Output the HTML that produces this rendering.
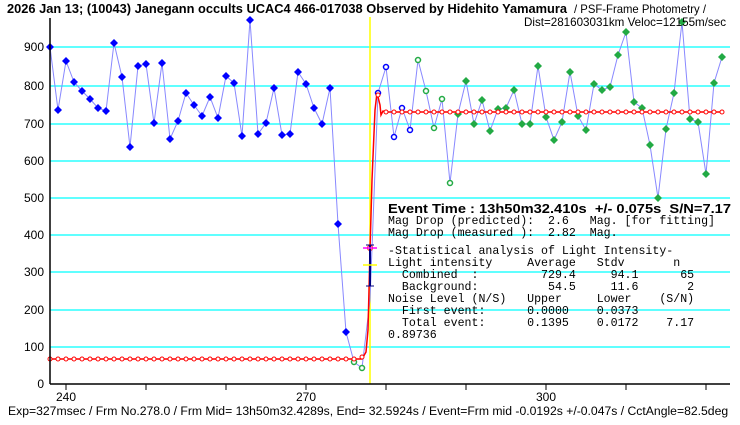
<!DOCTYPE html>
<html><head><meta charset="utf-8"><style>
html,body{margin:0;padding:0;background:#fff;width:740px;height:425px;overflow:hidden}
svg{display:block}
.m text{white-space:pre}
</style></head><body>
<svg width="740" height="425" viewBox="0 0 740 425" xmlns="http://www.w3.org/2000/svg" font-family="Liberation Sans, sans-serif">
<rect width="740" height="425" fill="#fff"/>
<g stroke="#00ffff" stroke-width="1.3">
<line x1="50" x2="730" y1="47" y2="47"/><line x1="50" x2="730" y1="86" y2="86"/>
<line x1="50" x2="730" y1="124" y2="124"/><line x1="50" x2="730" y1="161" y2="161"/>
<line x1="50" x2="730" y1="198" y2="198"/><line x1="50" x2="730" y1="235" y2="235"/>
<line x1="50" x2="730" y1="272" y2="272"/><line x1="50" x2="730" y1="310" y2="310"/>
<line x1="50" x2="730" y1="347" y2="347"/>
</g>
<g font-size="12" text-anchor="end" fill="#000">
<text x="44" y="51">900</text><text x="44" y="90">800</text><text x="44" y="128">700</text>
<text x="44" y="165">600</text><text x="44" y="202">500</text><text x="44" y="239">400</text>
<text x="44" y="276">300</text><text x="44" y="314">200</text><text x="44" y="351">100</text>
<text x="44" y="388">0</text>
</g>
<line x1="370" x2="370" y1="17" y2="384" stroke="#ffff00" stroke-width="1.5"/>
<polyline fill="none" stroke="#8888ff" stroke-width="1" points="50,47 58,110 66,61 74,82 82,91 90,99 98,108 106,111 114,43 122,77 130,147 138,66 146,64 154,123 162,63 170,139 178,121 186,93 194,105 202,116 210,97 218,118 226,76 234,83 242,136 250,20 258,134 266,123 274,88 282,135 290,134 298,72 306,84 314,108 322,124 330,88 338,224 346,332 354,362 362,368 370,300 378,93 386,67 394,137 402,108 410,130 418,60 426,91 434,128 442,99 450,183 458,114 466,81 474,124 482,100 490,131 498,109 506,108 514,90 522,124 530,124 538,66 546,117 554,140 562,122 570,72 578,116 586,130 594,84 602,90 610,87 618,55 626,32 634,102 642,108 650,145 658,198 666,129 674,93 682,22 690,119 698,122 706,174 714,83 722,57"/>
<g fill="#0000ff">
<path d="M50 43l4 4-4 4-4-4z M58 106l4 4-4 4-4-4z M66 57l4 4-4 4-4-4z M74 78l4 4-4 4-4-4z M82 87l4 4-4 4-4-4z M90 95l4 4-4 4-4-4z M98 104l4 4-4 4-4-4z M106 107l4 4-4 4-4-4z M114 39l4 4-4 4-4-4z M122 73l4 4-4 4-4-4z M130 143l4 4-4 4-4-4z M138 62l4 4-4 4-4-4z M146 60l4 4-4 4-4-4z M154 119l4 4-4 4-4-4z M162 59l4 4-4 4-4-4z M170 135l4 4-4 4-4-4z M178 117l4 4-4 4-4-4z M186 89l4 4-4 4-4-4z M194 101l4 4-4 4-4-4z M202 112l4 4-4 4-4-4z M210 93l4 4-4 4-4-4z M218 114l4 4-4 4-4-4z M226 72l4 4-4 4-4-4z M234 79l4 4-4 4-4-4z M242 132l4 4-4 4-4-4z M250 16l4 4-4 4-4-4z M258 130l4 4-4 4-4-4z M266 119l4 4-4 4-4-4z M274 84l4 4-4 4-4-4z M282 131l4 4-4 4-4-4z M290 130l4 4-4 4-4-4z M298 68l4 4-4 4-4-4z M306 80l4 4-4 4-4-4z M314 104l4 4-4 4-4-4z M322 120l4 4-4 4-4-4z M330 84l4 4-4 4-4-4z M338 220l4 4-4 4-4-4z M346 328l4 4-4 4-4-4z"/>
</g>
<g fill="#fff" stroke="#0000ff" stroke-width="1.5">
<circle cx="378" cy="93" r="2.5"/><circle cx="386" cy="67" r="2.5"/><circle cx="394" cy="137" r="2.5"/><circle cx="402" cy="108" r="2.5"/><circle cx="410" cy="130" r="2.5"/>
</g>
<g fill="#fff" stroke="#22aa44" stroke-width="1.5">
<circle cx="354" cy="362" r="2.5"/><circle cx="362" cy="368" r="2.5"/>
<circle cx="418" cy="60" r="2.5"/><circle cx="426" cy="91" r="2.5"/><circle cx="434" cy="128" r="2.5"/><circle cx="442" cy="99" r="2.5"/><circle cx="450" cy="183" r="2.5"/>
</g>
<g fill="#22aa44">
<path d="M458 110l4 4-4 4-4-4z M466 77l4 4-4 4-4-4z M474 120l4 4-4 4-4-4z M482 96l4 4-4 4-4-4z M490 127l4 4-4 4-4-4z M498 105l4 4-4 4-4-4z M506 104l4 4-4 4-4-4z M514 86l4 4-4 4-4-4z M522 120l4 4-4 4-4-4z M530 120l4 4-4 4-4-4z M538 62l4 4-4 4-4-4z M546 113l4 4-4 4-4-4z M554 136l4 4-4 4-4-4z M562 118l4 4-4 4-4-4z M570 68l4 4-4 4-4-4z M578 112l4 4-4 4-4-4z M586 126l4 4-4 4-4-4z M594 80l4 4-4 4-4-4z M602 86l4 4-4 4-4-4z M610 83l4 4-4 4-4-4z M618 51l4 4-4 4-4-4z M626 28l4 4-4 4-4-4z M634 98l4 4-4 4-4-4z M642 104l4 4-4 4-4-4z M650 141l4 4-4 4-4-4z M658 194l4 4-4 4-4-4z M666 125l4 4-4 4-4-4z M674 89l4 4-4 4-4-4z M682 18l4 4-4 4-4-4z M690 115l4 4-4 4-4-4z M698 118l4 4-4 4-4-4z M706 170l4 4-4 4-4-4z M714 79l4 4-4 4-4-4z M722 53l4 4-4 4-4-4z"/>
</g>
<polyline fill="none" stroke="#ff0000" stroke-width="1.5" points="50,359 362,359 366,352 368,330 370,250 372,180 375,110 377,93 380,105 381,115 383,111 386,112 722,112"/>
<g fill="#fff" stroke="#ff0000" stroke-width="1">
<circle cx="50" cy="359" r="2"/><circle cx="58" cy="359" r="2"/><circle cx="66" cy="359" r="2"/><circle cx="74" cy="359" r="2"/><circle cx="82" cy="359" r="2"/><circle cx="90" cy="359" r="2"/><circle cx="98" cy="359" r="2"/><circle cx="106" cy="359" r="2"/><circle cx="114" cy="359" r="2"/><circle cx="122" cy="359" r="2"/><circle cx="130" cy="359" r="2"/><circle cx="138" cy="359" r="2"/><circle cx="146" cy="359" r="2"/><circle cx="154" cy="359" r="2"/><circle cx="162" cy="359" r="2"/><circle cx="170" cy="359" r="2"/><circle cx="178" cy="359" r="2"/><circle cx="186" cy="359" r="2"/><circle cx="194" cy="359" r="2"/><circle cx="202" cy="359" r="2"/><circle cx="210" cy="359" r="2"/><circle cx="218" cy="359" r="2"/><circle cx="226" cy="359" r="2"/><circle cx="234" cy="359" r="2"/><circle cx="242" cy="359" r="2"/><circle cx="250" cy="359" r="2"/><circle cx="258" cy="359" r="2"/><circle cx="266" cy="359" r="2"/><circle cx="274" cy="359" r="2"/><circle cx="282" cy="359" r="2"/><circle cx="290" cy="359" r="2"/><circle cx="298" cy="359" r="2"/><circle cx="306" cy="359" r="2"/><circle cx="314" cy="359" r="2"/><circle cx="322" cy="359" r="2"/><circle cx="330" cy="359" r="2"/><circle cx="338" cy="359" r="2"/><circle cx="346" cy="359" r="2"/><circle cx="354" cy="359" r="2"/><circle cx="362" cy="357" r="2"/>
<circle cx="370" cy="248" r="2.5"/><circle cx="378" cy="95" r="2"/>
<circle cx="386" cy="112" r="2"/><circle cx="394" cy="112" r="2"/><circle cx="402" cy="112" r="2"/><circle cx="410" cy="112" r="2"/><circle cx="418" cy="112" r="2"/><circle cx="426" cy="112" r="2"/><circle cx="434" cy="112" r="2"/><circle cx="442" cy="112" r="2"/><circle cx="450" cy="112" r="2"/><circle cx="458" cy="112" r="2"/><circle cx="466" cy="112" r="2"/><circle cx="474" cy="112" r="2"/><circle cx="482" cy="112" r="2"/><circle cx="490" cy="112" r="2"/><circle cx="498" cy="112" r="2"/><circle cx="506" cy="112" r="2"/><circle cx="514" cy="112" r="2"/><circle cx="522" cy="112" r="2"/><circle cx="530" cy="112" r="2"/><circle cx="538" cy="112" r="2"/><circle cx="546" cy="112" r="2"/><circle cx="554" cy="112" r="2"/><circle cx="562" cy="112" r="2"/><circle cx="570" cy="112" r="2"/><circle cx="578" cy="112" r="2"/><circle cx="586" cy="112" r="2"/><circle cx="594" cy="112" r="2"/><circle cx="602" cy="112" r="2"/><circle cx="610" cy="112" r="2"/><circle cx="618" cy="112" r="2"/><circle cx="626" cy="112" r="2"/><circle cx="634" cy="112" r="2"/><circle cx="642" cy="112" r="2"/><circle cx="650" cy="112" r="2"/><circle cx="658" cy="112" r="2"/><circle cx="666" cy="112" r="2"/><circle cx="674" cy="112" r="2"/><circle cx="682" cy="112" r="2"/><circle cx="690" cy="112" r="2"/><circle cx="698" cy="112" r="2"/><circle cx="706" cy="112" r="2"/><circle cx="714" cy="112" r="2"/><circle cx="722" cy="112" r="2"/>
</g>
<line x1="370" x2="370" y1="245" y2="286" stroke="#000080" stroke-width="2"/>
<line x1="366" x2="374" y1="245" y2="245" stroke="#000080"/>
<line x1="366" x2="374" y1="286" y2="286" stroke="#000080"/>
<line x1="363" x2="377" y1="248" y2="248" stroke="#ff00ff" stroke-width="1.5"/>
<line x1="363" x2="377" y1="265" y2="265" stroke="#ffff00" stroke-width="1.5"/>
<line x1="50" x2="50" y1="18" y2="384" stroke="#000" stroke-width="1.5"/>
<line x1="50" x2="730" y1="384" y2="384" stroke="#000" stroke-width="1.5"/>
<g stroke="#000"><line x1="66" x2="66" y1="384" y2="390"/><line x1="146" x2="146" y1="384" y2="390"/><line x1="226" x2="226" y1="384" y2="390"/><line x1="306" x2="306" y1="384" y2="390"/><line x1="386" x2="386" y1="384" y2="390"/><line x1="466" x2="466" y1="384" y2="390"/><line x1="546" x2="546" y1="384" y2="390"/><line x1="626" x2="626" y1="384" y2="390"/><line x1="706" x2="706" y1="384" y2="390"/></g>
<g font-size="12" text-anchor="middle" fill="#000"><text x="66" y="401">240</text><text x="306" y="401">270</text><text x="546" y="401">300</text></g>
<text x="388" y="213" font-size="13" font-weight="bold" textLength="343" lengthAdjust="spacingAndGlyphs" style="white-space:pre">Event Time : 13h50m32.410s  +/- 0.075s  S/N=7.17</text>
<g class="m" font-family="Liberation Mono, monospace" font-size="11.6" fill="#000">
<text x="388" y="224">Mag Drop (predicted):  2.6   Mag. [for fitting]</text>
<text x="388" y="236">Mag Drop (measured ):  2.82  Mag.</text>
<text x="388" y="254">-Statistical analysis of Light Intensity-</text>
<text x="388" y="266">Light intensity     Average   Stdv       n</text>
<text x="388" y="278">  Combined  :         729.4     94.1      65</text>
<text x="388" y="290">  Background:          54.5     11.6       2</text>
<text x="388" y="302">Noise Level (N/S)   Upper     Lower    (S/N)</text>
<text x="388" y="314">  First event:      0.0000    0.0373</text>
<text x="388" y="326">  Total event:      0.1395    0.0172    7.17</text>
<text x="388" y="338">0.89736</text>
</g>
<text x="7" y="13" font-size="13" font-weight="bold" textLength="560" lengthAdjust="spacingAndGlyphs">2026 Jan 13; (10043) Janegann occults UCAC4 466-017038 Observed by Hidehito Yamamura</text>
<text x="574" y="13" font-size="12" textLength="132" lengthAdjust="spacingAndGlyphs">/ PSF-Frame Photometry /</text>
<text x="524" y="26" font-size="12" textLength="202" lengthAdjust="spacingAndGlyphs">Dist=281603031km Veloc=12155m/sec</text>
<text x="8" y="415" font-size="12.2">Exp=327msec / Frm No.278.0 / Frm Mid= 13h50m32.4289s, End= 32.5924s / Event=Frm mid -0.0192s +/-0.047s / CctAngle=82.5deg</text>
</svg>
</body></html>
